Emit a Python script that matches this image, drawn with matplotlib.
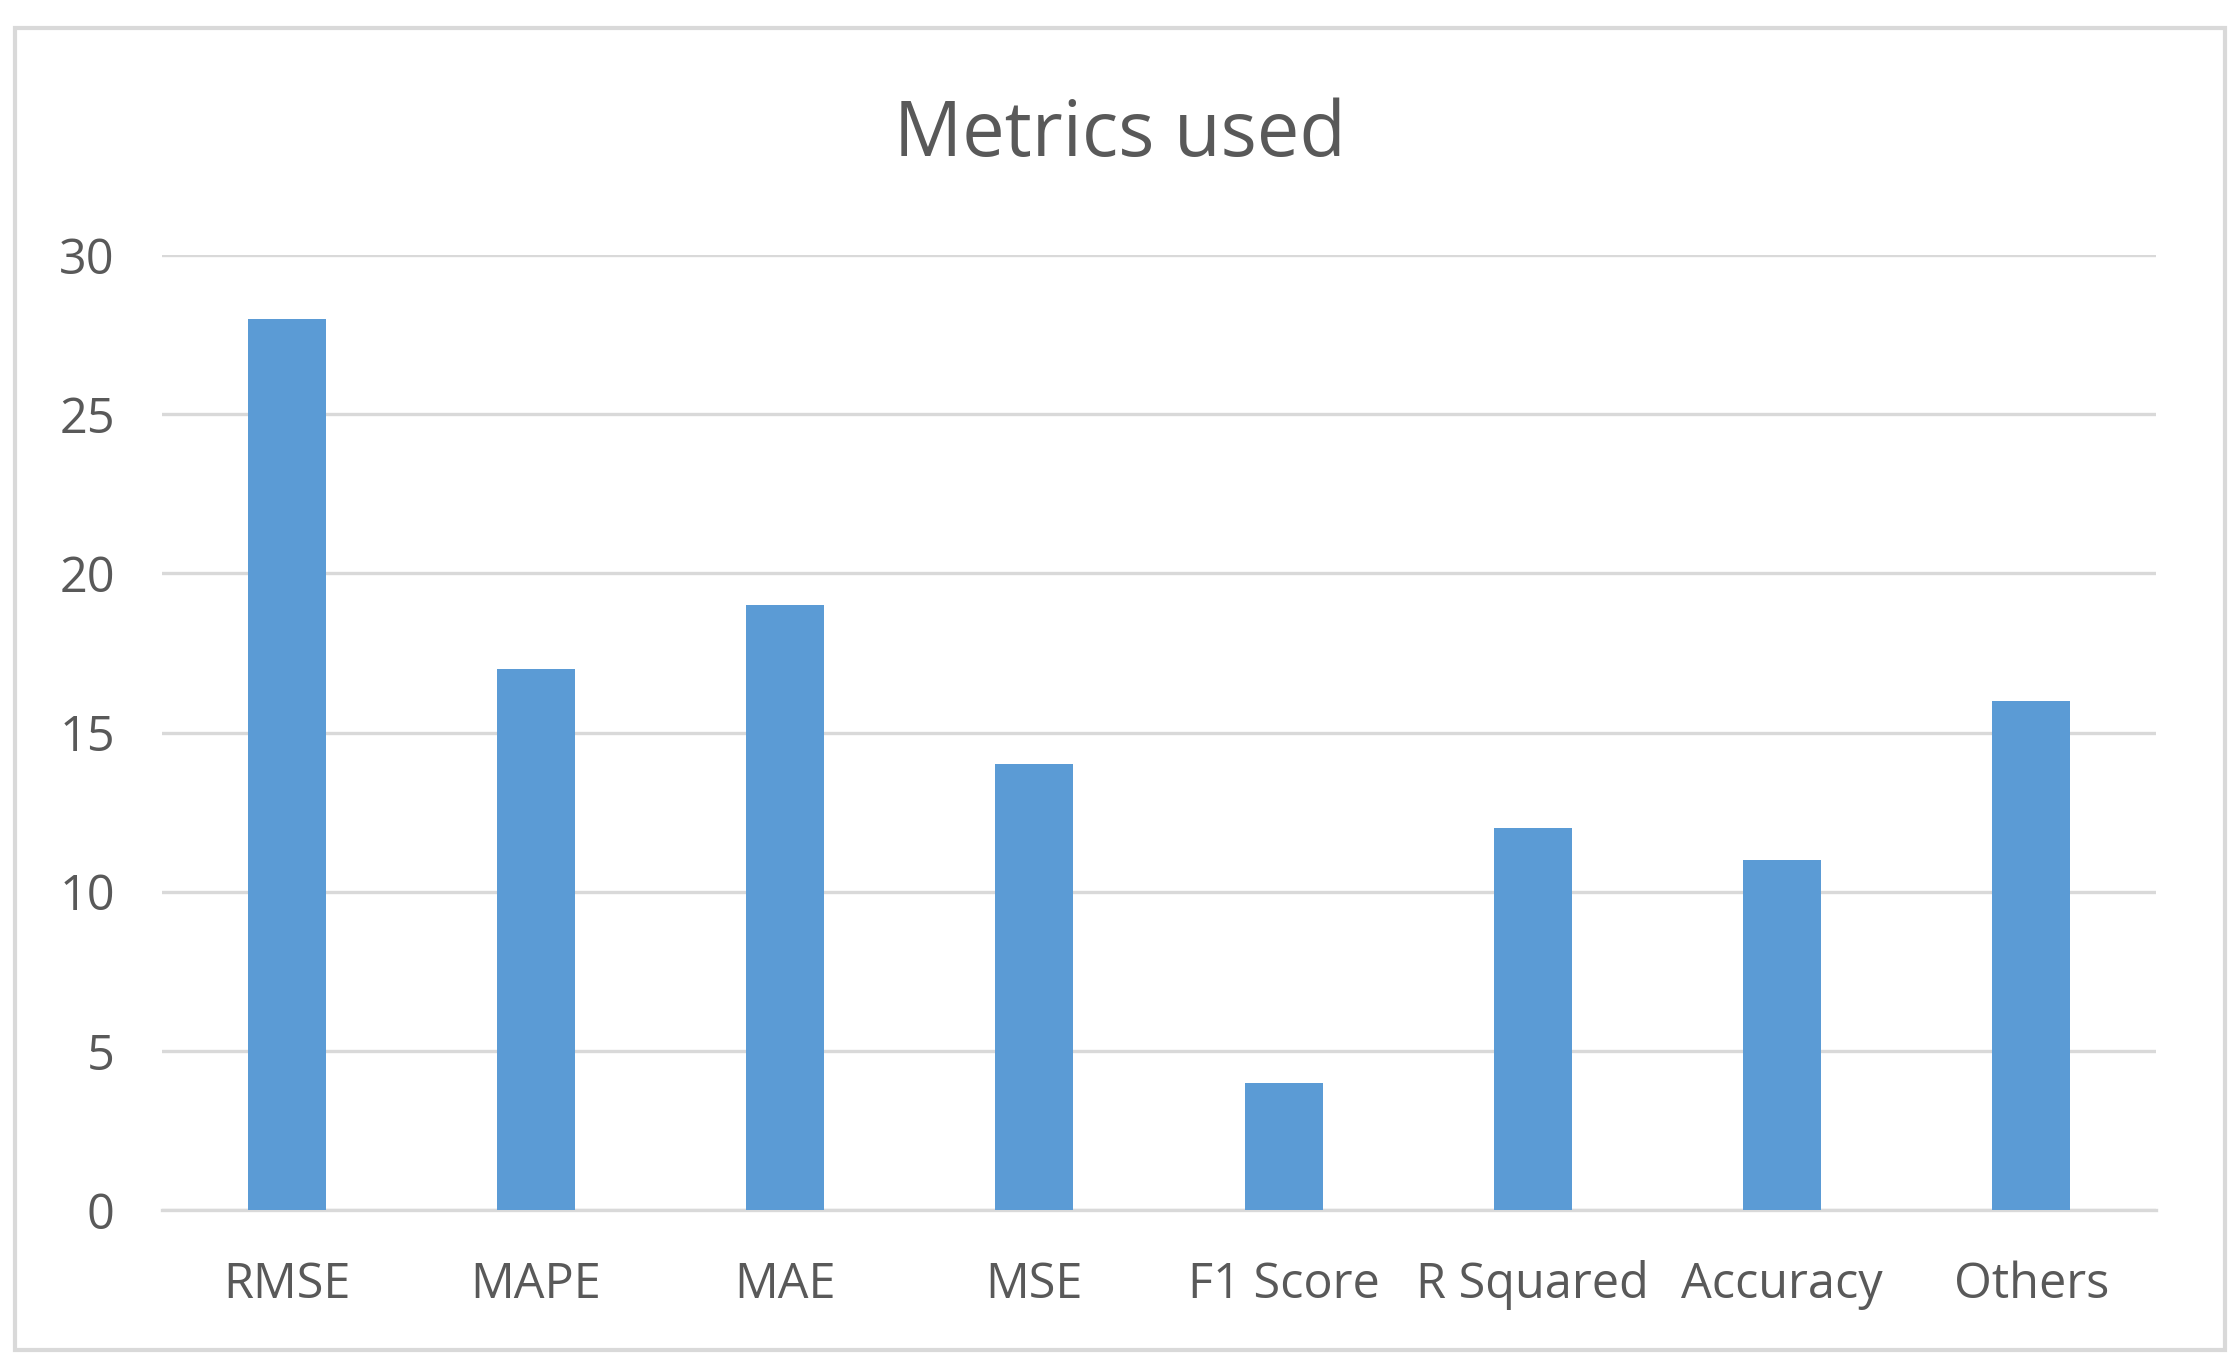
import numpy as np
import matplotlib.pyplot as plt
from matplotlib.patches import Rectangle

metrics = ['RMSE', 'MAPE', 'MAE', 'MSE', 'F1 Score', 'R Squared', 'Accuracy', 'Others']
counts = [28, 17, 19, 14, 4, 12, 11, 16]
yticks = [0, 5, 10, 15, 20, 25, 30]

plt.rcParams['font.family'] = ['Open Sans', 'DejaVu Sans']
text_col = '#595959'
grid_col = '#d9d9d9'
bar_col = '#5b9bd5'

W, H = 2240, 1372
fig = plt.figure(figsize=(W / 200, H / 200), dpi=200)

# outer chart border
fig.patches.append(Rectangle((15 / W, 1 - 1350 / H), 2210 / W, 1322 / H,
                             transform=fig.transFigure, fill=False,
                             edgecolor=grid_col, linewidth=1.5))

ax = fig.add_axes([162 / W, 1 - 1210 / H, (2156 - 162) / W, (1210 - 255) / H])
x = np.arange(len(metrics))
ax.bar(x, counts, width=0.313, color=bar_col, zorder=3)
ax.set_xlim(-0.5, len(metrics) - 0.5)
ax.set_ylim(0, 30)
ax.set_yticks(yticks)
ax.set_xticks(x)
ax.set_xticklabels(metrics)
ax.grid(axis='y', color=grid_col, linewidth=1.2, zorder=0)
for s in ['top', 'right', 'left']:
    ax.spines[s].set_visible(False)
ax.spines['bottom'].set_color(grid_col)
ax.spines['bottom'].set_linewidth(1.2)
ax.tick_params(axis='both', length=0, labelsize=17.5, colors=text_col)
ax.tick_params(axis='y', pad=17)
ax.tick_params(axis='x', pad=18)

fig.text(1120 / W, 1 - 136 / H, 'Metrics used', ha='center', va='center',
         fontsize=27.3, color=text_col)

plt.savefig('out.png', dpi=200)
